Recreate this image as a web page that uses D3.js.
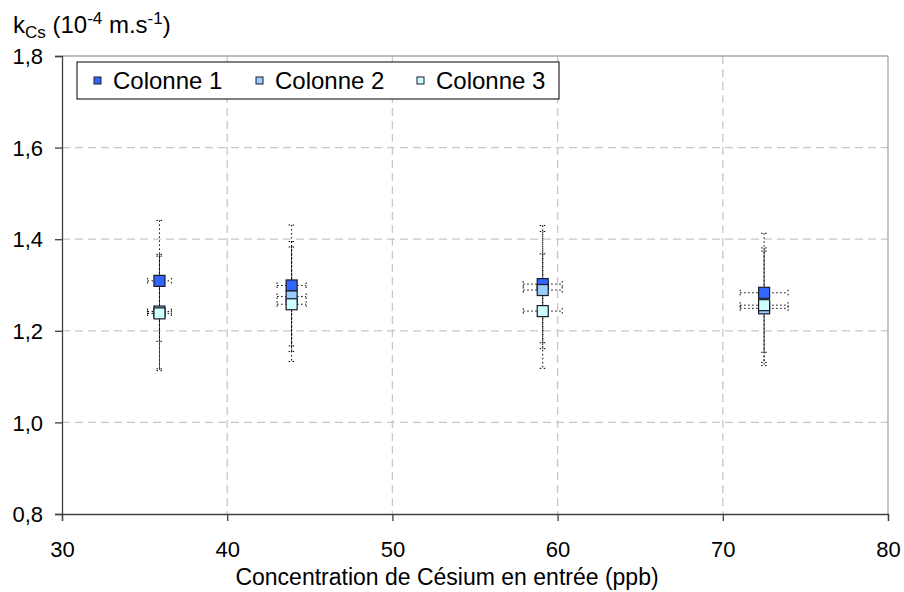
<!DOCTYPE html>
<html><head><meta charset="utf-8">
<script src="https://cdn.jsdelivr.net/npm/d3@7"></script>
<style>
body{margin:0;background:#fff;}
text{font-family:"Liberation Sans",Arial,sans-serif;fill:#000;}
</style></head>
<body>
<svg id="chart" width="904" height="592"></svg>
<script>
const seriesNames = ["Colonne 1", "Colonne 2", "Colonne 3"];
const seriesColors = ["#3366FF", "#99CCFF", "#CCFFFF"];
const xValues = [35.9, 43.9, 59.1, 72.5];
const xErrors = [0.72, 0.88, 1.18, 1.45];
const col1 = [1.309, 1.299, 1.302, 1.283];
const col2 = [1.242, 1.275, 1.289, 1.249];
const col3 = [1.238, 1.258, 1.243, 1.256];
const err1 = [0.132, 0.132, 0.128, 0.130];
const err2 = [0.125, 0.120, 0.128, 0.125];
const err3 = [0.125, 0.125, 0.125, 0.125];
const xTicks = [30, 40, 50, 60, 70, 80];
const yTicks = [0.8, 1.0, 1.2, 1.4, 1.6, 1.8];

const series = [
  {name: seriesNames[0], color: seriesColors[0], y: col1, e: err1},
  {name: seriesNames[1], color: seriesColors[1], y: col2, e: err2},
  {name: seriesNames[2], color: seriesColors[2], y: col3, e: err3}
];

const svg = d3.select("#chart");
const L = 62, R = 888, T = 56, B = 514;
const x = d3.scaleLinear().domain([30, 80]).range([L, R]);
const y = d3.scaleLinear().domain([0.8, 1.8]).range([B, T]);
const fmt = d => d3.format(".1f")(d).replace(".", ",");

// grid
const grid = svg.append("g");
grid.selectAll(".vg").data(xTicks.filter(t => t > 30 && t < 80)).join("line")
  .attr("x1", d => x(d)).attr("x2", d => x(d)).attr("y1", T).attr("y2", B)
  .attr("stroke", "#c8c8c8").attr("stroke-width", 1.3).attr("stroke-dasharray", "8,5");
grid.selectAll(".hg").data(yTicks.filter(t => t > 0.8 && t < 1.8)).join("line")
  .attr("x1", L).attr("x2", R).attr("y1", d => y(d)).attr("y2", d => y(d))
  .attr("stroke", "#c8c8c8").attr("stroke-width", 1.3).attr("stroke-dasharray", "8,5");
// top and right frame
svg.append("line").attr("x1", L).attr("x2", R).attr("y1", y(1.8)).attr("y2", y(1.8))
  .attr("stroke", "#a8a8a8").attr("stroke-width", 1.3);
svg.append("line").attr("x1", x(80)).attr("x2", x(80)).attr("y1", T).attr("y2", B)
  .attr("stroke", "#a8a8a8").attr("stroke-width", 1.3);

// axes
const xAxis = svg.append("g").attr("transform", `translate(0,${B})`)
  .call(d3.axisBottom(x).tickValues(xTicks).tickSize(7).tickPadding(20).tickFormat(d3.format("d")));
const yAxis = svg.append("g").attr("transform", `translate(${L},0)`)
  .call(d3.axisLeft(y).tickValues(yTicks).tickSize(7).tickPadding(12).tickFormat(fmt));
[xAxis, yAxis].forEach(a => {
  a.select(".domain").attr("stroke", "#404040").attr("stroke-width", 1.3);
  a.selectAll(".tick line").attr("stroke", "#404040").attr("stroke-width", 1.3);
  a.selectAll("text").attr("font-size", 22).attr("font-family", '"Liberation Sans",Arial,sans-serif').attr("fill", "#000");
});
yAxis.selectAll("text").attr("dy", "0.35em");

// error bars
const eb = svg.append("g").attr("stroke", "#000").attr("stroke-width", 1).attr("stroke-dasharray", "1.5,2.5").attr("fill", "none");
series.forEach(s => {
  s.y.forEach((v, i) => {
    const cx = x(xValues[i]), cy = y(v);
    const yt = y(v + s.e[i]), yb = y(v - s.e[i]);
    const xl = x(xValues[i] - xErrors[i]), xr = x(xValues[i] + xErrors[i]);
    eb.append("line").attr("x1", cx).attr("x2", cx).attr("y1", yt).attr("y2", yb);
    eb.append("line").attr("x1", cx - 3).attr("x2", cx + 3).attr("y1", yt).attr("y2", yt);
    eb.append("line").attr("x1", cx - 3).attr("x2", cx + 3).attr("y1", yb).attr("y2", yb);
    eb.append("line").attr("x1", xl).attr("x2", xr).attr("y1", cy).attr("y2", cy);
    eb.append("line").attr("x1", xl).attr("x2", xl).attr("y1", cy - 3).attr("y2", cy + 3);
    eb.append("line").attr("x1", xr).attr("x2", xr).attr("y1", cy - 3).attr("y2", cy + 3);
  });
});

// markers
series.forEach(s => {
  svg.append("g").selectAll("rect").data(s.y).join("rect")
    .attr("x", (d, i) => x(xValues[i]) - 5.5).attr("y", d => y(d) - 5.5)
    .attr("width", 11).attr("height", 11)
    .attr("fill", s.color).attr("stroke", "#1a1a2a").attr("stroke-width", 1.2);
});

// legend
const lg = svg.append("g");
lg.append("rect").attr("x", 77).attr("y", 62).attr("width", 482).attr("height", 37)
  .attr("fill", "#fff").attr("stroke", "#000").attr("stroke-width", 1);
const legX = [94, 256, 417];
series.forEach((s, i) => {
  lg.append("rect").attr("x", legX[i]).attr("y", 77).attr("width", 7).attr("height", 7)
    .attr("fill", s.color).attr("stroke", "#1a1a2a").attr("stroke-width", 1);
  lg.append("text").attr("x", legX[i] + 19).attr("y", 89).attr("font-size", 24).text(s.name);
});

// y title
const yt = svg.append("text").attr("x", 13).attr("y", 33).attr("font-size", 24);
yt.append("tspan").text("k");
yt.append("tspan").attr("font-size", 17).attr("dy", 5).text("Cs");
yt.append("tspan").attr("dy", -5).text(" (10");
yt.append("tspan").attr("font-size", 17).attr("dy", -9).text("-4");
yt.append("tspan").attr("dy", 9).text(" m.s");
yt.append("tspan").attr("font-size", 17).attr("dy", -9).text("-1");
yt.append("tspan").attr("dy", 9).text(")");

// x title
svg.append("text").attr("x", 447).attr("y", 585).attr("text-anchor", "middle").attr("font-size", 23)
  .text("Concentration de Césium en entrée (ppb)");
</script>
</body></html>
